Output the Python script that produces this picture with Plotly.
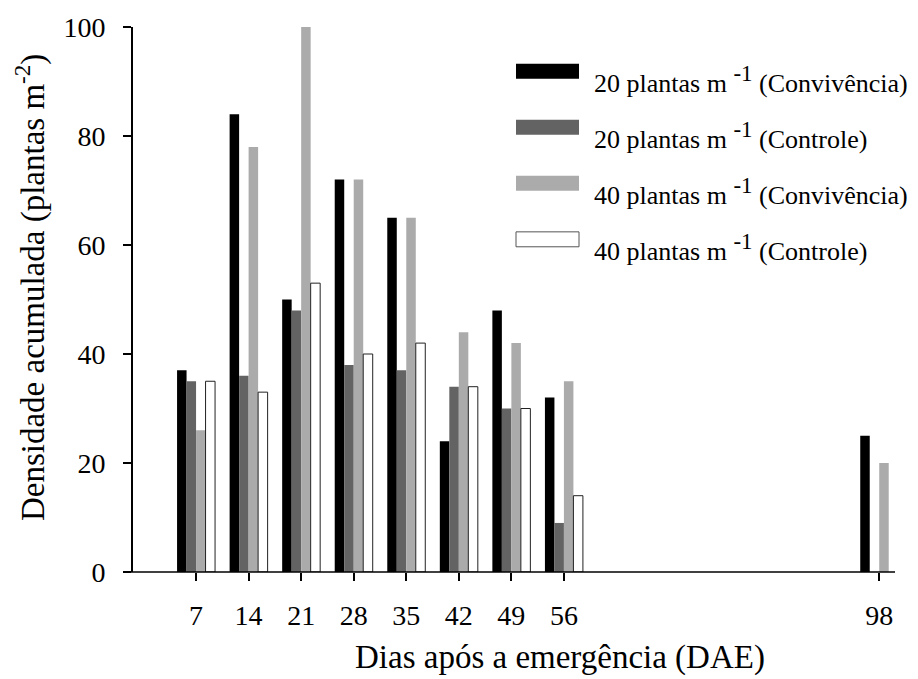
import plotly.graph_objects as go

# Days after emergence and accumulated density (plants m-2) per treatment
dias = [7, 14, 21, 28, 35, 42, 49, 56, 98]
conv_20 = [37, 84, 50, 72, 65, 24, 48, 32, 25]
ctrl_20 = [35, 36, 48, 38, 37, 34, 30, 9, None]
conv_40 = [26, 78, 100, 72, 65, 44, 42, 35, 20]
ctrl_40 = [35, 33, 53, 40, 42, 34, 30, 14, None]

SUP1 = "<sup><span style='font-size:23px'>-1</span></sup>"
series_names = [
    "20 plantas m " + SUP1 + " (Convivência)",
    "20 plantas m " + SUP1 + " (Controle)",
    "40 plantas m " + SUP1 + " (Convivência)",
    "40 plantas m " + SUP1 + " (Controle)",
]
series_values = [conv_20, ctrl_20, conv_40, ctrl_40]
fills = ["#000000", "#636363", "#ababab", "#ffffff"]
outline_w = [0, 0, 0, 1]

y_ticks = [0, 20, 40, 60, 80, 100]

FONT = "Liberation Serif"

fig = go.Figure()
for name, vals, col, lw in zip(series_names, series_values, fills, outline_w):
    fig.add_trace(go.Bar(
        x=dias, y=vals, name=name,
        marker=dict(color=col, line=dict(color="#222222", width=lw)),
        showlegend=False,
    ))

# plot-area geometry in pixels (used for the hand-drawn legend)
W, H = 918, 679
L, R, T, B = 133, 23, 25, 107
pw, ph = W - L - R, H - T - B


def px(x):
    return (x - L) / pw


def py(y):
    return (H - B - y) / ph


shapes = []
annotations = []
# legend: wide swatches with labels to the right
for i, (name, col, lw) in enumerate(zip(series_names, fills, outline_w)):
    cy = 69.5 + i * 56.2
    shapes.append(dict(
        type="rect", xref="paper", yref="paper",
        x0=px(516), x1=px(579), y0=py(cy + 7.5), y1=py(cy - 7.5),
        fillcolor=col, line=dict(color="#555555" if lw else col, width=1 if lw else 0),
        layer="above",
    ))
    annotations.append(dict(
        xref="paper", yref="paper", x=px(592), y=py(cy + 29),
        xanchor="left", yanchor="bottom", showarrow=False,
        text=name,
        font=dict(family=FONT, size=26, color="#000000"),
    ))

# x axis baseline runs slightly past the y axis
shapes.append(dict(
    type="line", xref="paper", yref="paper",
    x0=px(125), x1=1, y0=0, y1=0,
    line=dict(color="#000000", width=1.6),
))

annotations.append(dict(
    xref="paper", yref="paper", x=px(560), y=py(658),
    xanchor="center", yanchor="middle", showarrow=False,
    text="Dias após a emergência (DAE)",
    font=dict(family=FONT, size=33, color="#000000"),
))
annotations.append(dict(
    xref="paper", yref="paper", x=px(30), y=py(287),
    xanchor="center", yanchor="middle", showarrow=False, textangle=-90,
    text="Densidade acumulada (plantas m<sup>-2</sup>)",
    font=dict(family=FONT, size=33, color="#000000"),
))

fig.update_layout(
    width=W, height=H,
    margin=dict(l=L, r=R, t=T, b=B),
    paper_bgcolor="#ffffff", plot_bgcolor="#ffffff",
    barmode="group", bargap=0.277, bargroupgap=0,
    font=dict(family=FONT, color="#000000"),
    shapes=shapes, annotations=annotations,
    xaxis=dict(
        range=[-1.4, 100.1], tickmode="array", tickvals=dias,
        ticktext=[str(d) for d in dias],
        ticks="outside", ticklen=8, tickwidth=1.6, tickcolor="#000000",
        showline=False, showgrid=False, zeroline=False,
        tickfont=dict(family=FONT, size=28, color="#000000"),
        ticklabelstandoff=10,
    ),
    yaxis=dict(
        range=[0, 100], tickmode="array", tickvals=y_ticks,
        ticks="outside", ticklen=8, tickwidth=1.6, tickcolor="#000000",
        showline=True, linecolor="#000000", linewidth=1.6,
        showgrid=False, zeroline=False,
        tickfont=dict(family=FONT, size=28, color="#000000"),
        ticklabelstandoff=12,
    ),
)

fig.write_html("out.html")
